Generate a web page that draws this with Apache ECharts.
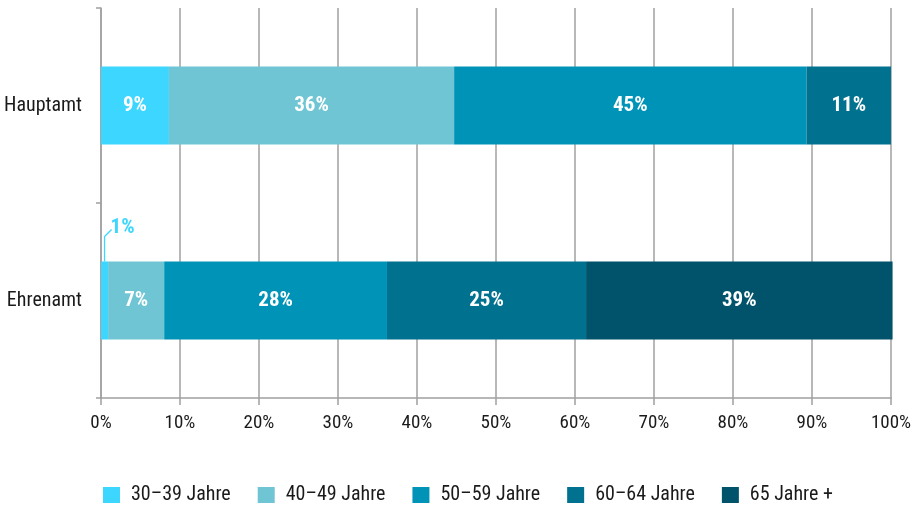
<!DOCTYPE html>
<html><head><meta charset="utf-8">
<script src="https://cdn.jsdelivr.net/npm/echarts@6/dist/echarts.min.js"></script>
<style>html,body{margin:0;padding:0;background:#fff}#c{width:922px;height:506px}</style>
</head><body><div id="c"></div>
<script>
const categories = ['Hauptamt', 'Ehrenamt'];
const seriesNames = ['30–39 Jahre', '40–49 Jahre', '50–59 Jahre', '60–64 Jahre', '65 Jahre +'];
const v3039 = [8.6, 0.9];
const v4049 = [36.1, 7.1];
const v5059 = [44.6, 28.2];
const v6064 = [10.7, 25.2];
const v65plus = [0, 38.8];
const xTicks = [0, 10, 20, 30, 40, 50, 60, 70, 80, 90, 100];
// small segment whose label sits outside the bar with a leader line: [category index]
const outsideLabels = [1];

const colors = ['#3dd6ff', '#6fc5d3', '#0093b8', '#00718f', '#00536a'];
const FONT = "'Roboto Condensed','Liberation Sans Narrow','Roboto',sans-serif";
const allVals = [v3039, v4049, v5059, v6064, v65plus];
const BAR_W = 78;

const series = seriesNames.map((name, i) => ({
  name, type: 'bar', stack: 'total', barWidth: BAR_W, clip: false,
  itemStyle: { color: colors[i] },
  label: {
    show: true, position: 'inside', color: '#fff', fontWeight: 'bold',
    fontSize: 21, fontFamily: FONT,
    formatter: p => (p.value > 0 && !(i === 0 && outsideLabels.includes(p.dataIndex)) ? Math.round(p.value) + '%' : '')
  },
  data: allVals[i].map(v => (v > 0 ? v : null))
}));

// leader line + outside label for the tiny first segment
series.push({
  type: 'custom', name: 'leader', silent: true, z: 5,
  data: outsideLabels.map(ci => [v3039[ci], ci]),
  renderItem: (params, api) => {
    const p = api.coord([api.value(0) / 2, api.value(1)]);
    const top = p[1] - BAR_W / 2;
    const x = p[0];
    return {
      type: 'group',
      children: [
        { type: 'polyline', shape: { points: [[x, top], [x, top - 25], [x + 7, top - 32]] },
          style: { stroke: colors[0], lineWidth: 1.3, fill: null } },
        { type: 'text', x: x + 6, y: top - 23,
          style: { text: Math.round(api.value(0)) + '%', fill: colors[0], font: 'bold 21px ' + FONT,
                   textAlign: 'left', textVerticalAlign: 'bottom' } }
      ]
    };
  }
});

const chart = echarts.init(document.getElementById('c'));
chart.setOption({
  animation: false,
  color: colors,
  grid: { left: 101, right: 31, top: 8, bottom: 108 },
  legend: {
    top: 480, left: 98,
    itemWidth: 17, itemHeight: 16, itemGap: 27,
    icon: 'rect',
    textStyle: { fontFamily: FONT, fontSize: 20, color: '#1a1a1a', padding: [0, 0, 0, 6] },
    data: seriesNames
  },
  xAxis: {
    type: 'value', min: 0, max: 100, interval: 10,
    axisLine: { show: true, lineStyle: { color: '#a0a0a0', width: 1.5 } },
    axisTick: { show: true, length: 7, lineStyle: { color: '#a0a0a0', width: 1.5 } },
    splitLine: { show: true, lineStyle: { color: '#a0a0a0', width: 1.5 } },
    axisLabel: { formatter: v => (xTicks.includes(v) ? v + '%' : ''), fontFamily: FONT, fontSize: 19, color: '#1a1a1a', margin: 16 }
  },
  yAxis: {
    type: 'category', data: categories, inverse: true,
    axisLine: { show: true, lineStyle: { color: '#a0a0a0', width: 1.5 } },
    axisTick: { show: true, length: 5, lineStyle: { color: '#a0a0a0', width: 1.5 } },
    axisLabel: { fontFamily: FONT, fontSize: 20, color: '#1a1a1a', margin: 19 }
  },
  series
});
</script></body></html>
